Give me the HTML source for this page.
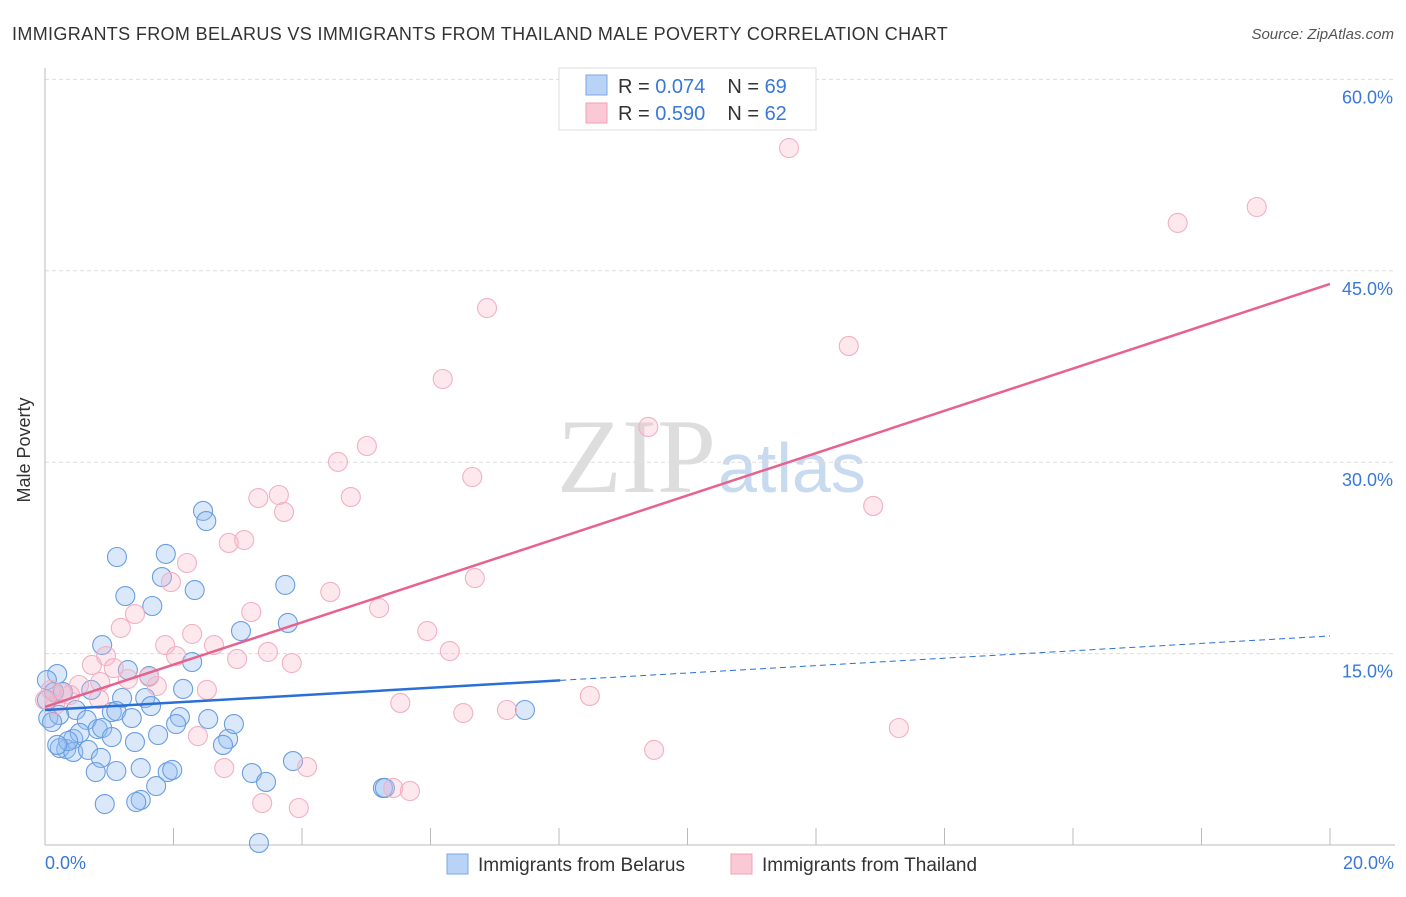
<!DOCTYPE html>
<html><head><meta charset="utf-8"><style>
body{margin:0;background:#fff;font-family:"Liberation Sans",sans-serif}
</style></head><body>
<svg width="1406" height="892" xmlns="http://www.w3.org/2000/svg" font-family="Liberation Sans, sans-serif">
<text x="12" y="40" font-size="18" fill="#333" letter-spacing="0.35">IMMIGRANTS FROM BELARUS VS IMMIGRANTS FROM THAILAND MALE POVERTY CORRELATION CHART</text>
<text x="1394" y="39" font-size="15" fill="#555" font-style="italic" text-anchor="end">Source: ZipAtlas.com</text>
<text x="716" y="492" font-size="106" fill="#ddd" text-anchor="end" font-family="Liberation Serif, serif">ZIP</text>
<text x="718" y="492" font-size="70" fill="#c8daf0">atlas</text>
<g id="grid"></g>
<line x1="45" y1="68" x2="45" y2="845" stroke="#bbb"/>
<line x1="45" y1="845" x2="1395" y2="845" stroke="#bbb"/>
<text x="35" y="455" font-size="18" fill="#333" text-anchor="middle" transform="rotate(-90 30 455)">Male Poverty</text>
<text x="45" y="869" font-size="18" fill="#3a78d8">0.0%</text>
<text x="1394" y="869" font-size="18" fill="#3a78d8" text-anchor="end">20.0%</text>
<g id="pts"></g>
<g id="lines"></g>
<g>
<rect x="559" y="68" width="257" height="62" fill="#fff" stroke="#ddd"/>
<rect x="586" y="75" width="21" height="20" fill="#b8d3f5" stroke="#7aa8e6"/>
<rect x="586" y="103" width="21" height="20" fill="#fbc8d6" stroke="#f0a0b8"/>
<text x="618" y="93" font-size="20" fill="#333">R = <tspan fill="#3a78d8">0.074</tspan><tspan dx="22">N = </tspan><tspan fill="#3a78d8">69</tspan></text>
<text x="618" y="120" font-size="20" fill="#333">R = <tspan fill="#3a78d8">0.590</tspan><tspan dx="22">N = </tspan><tspan fill="#3a78d8">62</tspan></text>
</g>
<g>
<rect x="447" y="854" width="21" height="20" fill="#b8d3f5" stroke="#7aa8e6"/>
<text x="478" y="871" font-size="19" fill="#333">Immigrants from Belarus</text>
<rect x="731" y="854" width="21" height="20" fill="#fbc8d6" stroke="#f0a0b8"/>
<text x="762" y="871" font-size="19" fill="#333">Immigrants from Thailand</text>
</g>
</svg>
<script>
const blueX=[2.46,2.51,1.12,1.88,1.82,2.33,1.25,1.67,3.05,3.74,3.78,0.89,2.29,0.19,0.03,1.62,1.29,2.15,0.72,1.20,1.56,1.04,1.11,1.35,1.65,2.10,0.14,0.48,0.05,0.22,0.65,0.82,0.89,0.44,1.40,1.76,2.04,2.85,2.77,0.33,0.23,0.44,0.67,0.87,1.11,0.79,1.49,1.91,1.98,3.22,3.44,3.86,1.73,1.49,1.42,0.93,5.26,5.29,3.33,7.47,0.03,0.11,0.54,0.36,1.04,2.54,2.94,0.19,0.28];
const blueY=[26.18,25.39,22.57,22.81,21.00,19.98,19.51,18.73,16.77,20.38,17.40,15.67,14.34,13.40,12.93,13.24,13.71,12.23,12.15,11.52,11.52,10.42,10.50,9.95,10.89,10.03,11.99,10.58,9.95,10.19,9.80,9.09,9.17,8.31,8.07,8.62,9.48,8.31,7.84,7.52,7.60,7.29,7.45,6.82,5.80,5.72,6.03,5.72,5.88,5.64,4.94,6.58,4.62,3.53,3.37,3.21,4.47,4.47,0.16,10.58,11.36,9.64,8.78,8.15,8.46,9.87,9.48,7.84,11.99];
const pinkX=[11.58,18.86,17.63,6.88,12.51,6.19,9.39,5.01,4.56,6.65,4.76,3.32,3.64,3.72,12.89,2.86,3.10,2.21,1.96,6.69,4.44,1.40,3.21,5.20,1.18,5.95,1.87,2.29,2.63,0.95,0.73,2.04,3.47,6.30,2.99,3.84,1.07,1.29,1.62,1.74,0.53,0.09,0.26,0.39,0.84,2.52,5.53,6.51,7.19,8.48,2.38,13.29,9.48,2.79,4.08,5.42,5.68,3.38,3.95,0.0,0.16,0.86];
const pinkY=[54.62,50.00,48.75,42.08,39.11,36.52,32.76,31.27,30.02,28.84,27.27,27.19,27.43,26.10,26.57,23.67,23.90,22.10,20.61,20.92,19.83,18.10,18.26,18.57,17.01,16.77,15.67,16.54,15.67,14.81,14.11,14.81,15.13,15.20,14.58,14.26,13.87,13.01,13.17,12.46,12.54,12.15,11.91,11.76,11.44,12.15,11.13,10.34,10.58,11.68,8.54,9.17,7.45,6.03,6.11,4.47,4.23,3.29,2.90,11.36,10.97,12.77];
const yTicks=[15,30,45,60];
const yTickLabels=["15.0%","30.0%","45.0%","60.0%"];
const xTicks=[2,4,6,8,10,12,14,16,18,20];
const blueLine=[10.58,16.38], blueSolidEnd=8.02;
const pinkLine=[10.82,43.97];
const NS="http://www.w3.org/2000/svg";
const sx=v=>45+v*64.25, sy=v=>845-v*12.76;
function mk(t,a,p){const e=document.createElementNS(NS,t);for(const k in a)e.setAttribute(k,a[k]);p.appendChild(e);return e;}
const grid=document.getElementById('grid');
yTicks.forEach((v,i)=>{
 const l=mk('line',{x1:45,x2:1395,y1:sy(v),y2:sy(v),stroke:'#ddd','stroke-dasharray':'4,3'},grid);
 
 
 const t=mk('text',{x:1393,y:sy(v)+24,'font-size':18,fill:'#3a78d8','text-anchor':'end'},grid);
 t.textContent=yTickLabels[i];
 
 
});
xTicks.forEach(v=>{
 const l=mk('line',{x1:sx(v),x2:sx(v),y1:828,y2:845,stroke:'#bbb'},grid);
 
 
});
const pts=document.getElementById('pts');
blueX.forEach((x,i)=>{
 const c=mk('circle',{cx:sx(x),cy:sy(blueY[i]),r:9.5,fill:'rgba(150,190,240,0.35)',stroke:'#6a9ee0','stroke-width':1.1},pts);
 
 
});
pinkX.forEach((x,i)=>{
 const c=mk('circle',{cx:sx(x),cy:sy(pinkY[i]),r:9.5,fill:'rgba(248,180,200,0.3)',stroke:'#f2b0c4','stroke-width':1.1},pts);
 
 
});
const ln=document.getElementById('lines');
const by=x=>blueLine[0]+(blueLine[1]-blueLine[0])*x/20;
let a=mk('line',{x1:sx(0),y1:sy(by(0)),x2:sx(blueSolidEnd),y2:sy(by(blueSolidEnd)),stroke:'#2a6fd6','stroke-width':2.5},ln);


a=mk('line',{x1:sx(blueSolidEnd),y1:sy(by(blueSolidEnd)),x2:sx(20),y2:sy(by(20)),stroke:'#2a6fd6','stroke-width':1,'stroke-dasharray':'6,4'},ln);


a=mk('line',{x1:sx(0),y1:sy(pinkLine[0]),x2:sx(20),y2:sy(pinkLine[1]),stroke:'#e8628e','stroke-width':2.5},ln);


</script>
</body></html>
